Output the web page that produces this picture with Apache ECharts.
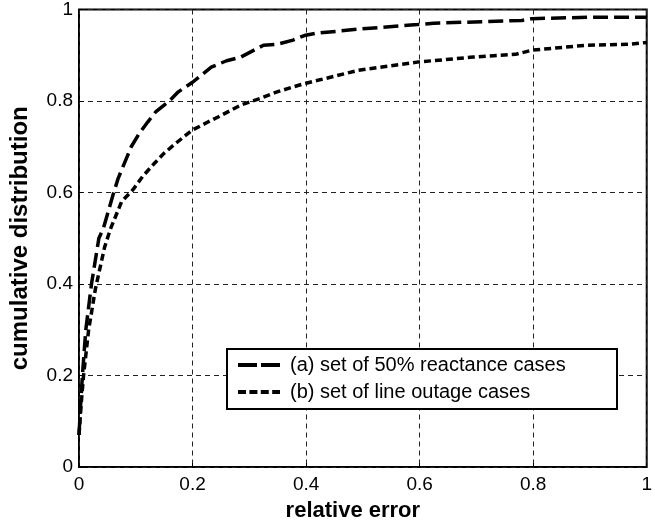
<!DOCTYPE html>
<html><head><meta charset="utf-8">
<script src="https://cdn.jsdelivr.net/npm/echarts@6/dist/echarts.min.js"></script>
<style>html,body{margin:0;padding:0;background:#fff}#c{width:655px;height:527px}</style>
</head><body><div id="c"></div>
<script>
const seriesNames = ['(a) set of 50% reactance cases', '(b) set of line outage cases'];
const xTicks = [0, 0.2, 0.4, 0.6, 0.8, 1];
const yTicks = [0, 0.2, 0.4, 0.6, 0.8, 1];
const curveA = [[0,0.07],[0.003,0.14],[0.006,0.2],[0.012,0.3],[0.022,0.4],[0.035,0.5],[0.043,0.522],[0.06,0.595],[0.069,0.631],[0.081,0.667],[0.092,0.7],[0.106,0.729],[0.121,0.754],[0.135,0.776],[0.159,0.8],[0.175,0.82],[0.2,0.841],[0.233,0.874],[0.26,0.888],[0.285,0.896],[0.325,0.922],[0.349,0.924],[0.377,0.933],[0.397,0.943],[0.418,0.948],[0.492,0.957],[0.596,0.967],[0.625,0.97],[0.78,0.976],[0.798,0.98],[0.895,0.983],[1,0.983]];
const curveB = [[0,0.07],[0.004,0.14],[0.008,0.2],[0.017,0.3],[0.029,0.39],[0.045,0.48],[0.055,0.519],[0.075,0.58],[0.095,0.606],[0.112,0.635],[0.13,0.66],[0.15,0.686],[0.17,0.707],[0.199,0.736],[0.227,0.754],[0.245,0.765],[0.285,0.791],[0.32,0.806],[0.349,0.82],[0.394,0.837],[0.492,0.867],[0.596,0.885],[0.694,0.896],[0.769,0.902],[0.798,0.911],[0.895,0.922],[0.971,0.924],[1,0.928]];

const chart = echarts.init(document.getElementById('c'));
const font = 'Liberation Sans, Arial, Helvetica, sans-serif';
const dashA = [15, 6], dashB = [7, 4];
const lx = 227, ly = 349, lw = 390, lh = 60;
chart.setOption({
  animation: false,
  backgroundColor: '#fff',
  grid: {left: 75, right: 1, top: 7, bottom: 60, show: true, borderColor: '#000', borderWidth: 2, backgroundColor: 'transparent'},
  xAxis: {
    type: 'value', min: xTicks[0], max: xTicks[xTicks.length-1], interval: 0.2,
    name: 'relative error', nameLocation: 'middle', nameGap: 33,
    nameTextStyle: {fontFamily: font, fontWeight: 'bold', fontSize: 22, color: '#000', padding: [0, 20, 0, 0]},
    axisLine: {show: false}, axisTick: {show: true, inside: true, length: 4, lineStyle: {color: '#000'}},
    axisLabel: {fontFamily: font, fontSize: 19, color: '#000', margin: 8, formatter: v => String(+v.toFixed(1))},
    splitLine: {show: true, lineStyle: {color: '#222', width: 1, type: [5, 4]}}
  },
  yAxis: {
    type: 'value', min: yTicks[0], max: yTicks[yTicks.length-1], interval: 0.2,
    name: 'cumulative distribution', nameLocation: 'middle', nameGap: 47,
    nameTextStyle: {fontFamily: font, fontWeight: 'bold', fontSize: 24, color: '#000'},
    axisLine: {show: false}, axisTick: {show: true, inside: true, length: 4, lineStyle: {color: '#000'}},
    axisLabel: {fontFamily: font, fontSize: 19, color: '#000', margin: 6, formatter: v => String(+v.toFixed(1))},
    splitLine: {show: true, lineStyle: {color: '#222', width: 1, type: [5, 4]}}
  },
  graphic: [
    {type: 'rect', z: 100, shape: {x: lx, y: ly, width: lw, height: lh}, style: {fill: '#fff', stroke: '#000', lineWidth: 2}},
    {type: 'line', z: 101, shape: {x1: lx + 11, y1: ly + 16, x2: lx + 53, y2: ly + 16}, style: {stroke: '#000', lineWidth: 4, lineDash: [19, 4]}},
    {type: 'line', z: 101, shape: {x1: lx + 11, y1: ly + 43, x2: lx + 53, y2: ly + 43}, style: {stroke: '#000', lineWidth: 4, lineDash: [8, 3.4]}},
    {type: 'text', z: 101, x: lx + 63, y: ly + 16, style: {text: seriesNames[0], font: '20px ' + font, fill: '#000', verticalAlign: 'middle'}},
    {type: 'text', z: 101, x: lx + 63, y: ly + 43, style: {text: seriesNames[1], font: '20px ' + font, fill: '#000', verticalAlign: 'middle'}}
  ],
  series: [
    {name: seriesNames[0], type: 'line', data: curveA, symbol: 'none', smooth: false,
     lineStyle: {color: '#000', width: 3.5, type: dashA}, itemStyle: {color: '#000'}},
    {name: seriesNames[1], type: 'line', data: curveB, symbol: 'none', smooth: false,
     lineStyle: {color: '#000', width: 3.5, type: dashB}, itemStyle: {color: '#000'}}
  ]
});
</script></body></html>
